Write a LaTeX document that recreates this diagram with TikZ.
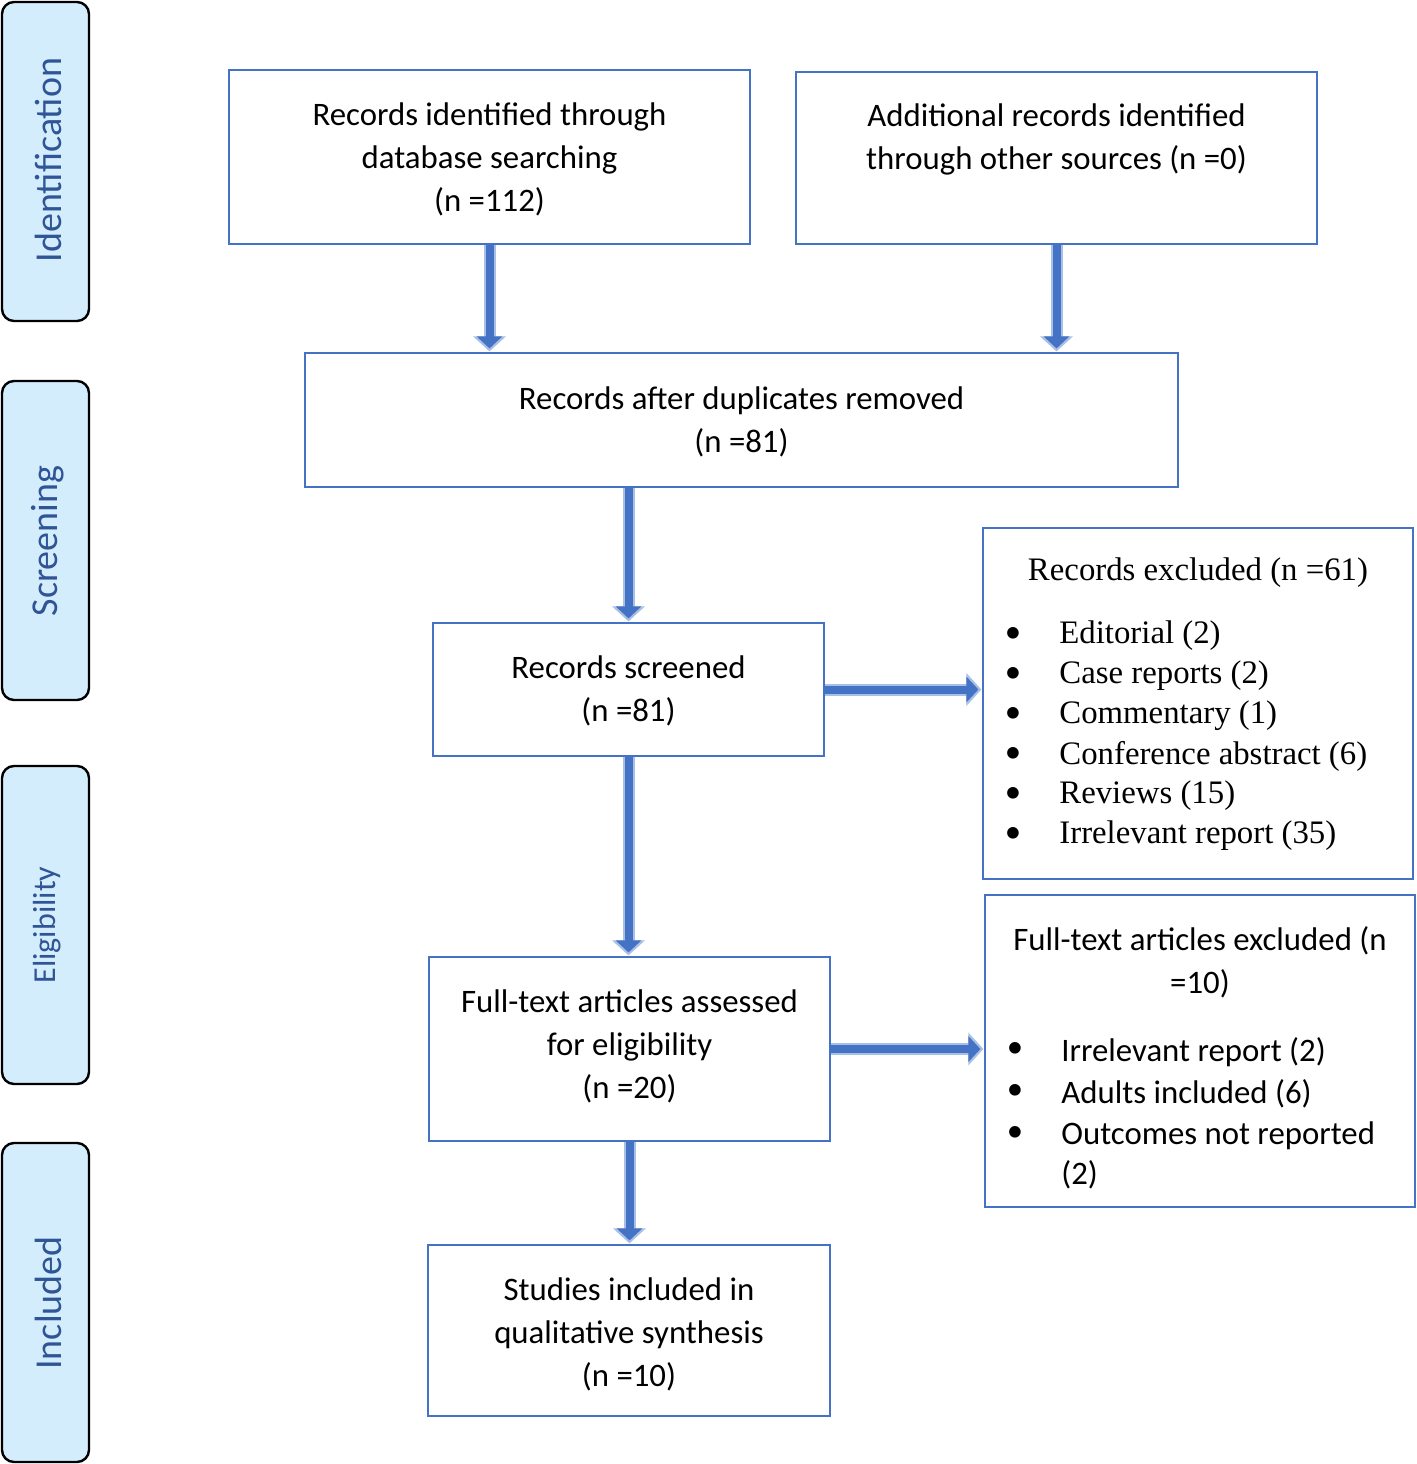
\documentclass[tikz,border=0pt]{standalone}
\usepackage{fontspec}
\setmainfont{Carlito}
\newfontfamily\serifx{Liberation Serif}
\usetikzlibrary{arrows.meta}
\definecolor{boxblue}{HTML}{4472C4}
\definecolor{arrlight}{HTML}{A9C0E6}
\definecolor{sidefill}{HTML}{D4EDFC}
\definecolor{sidetext}{HTML}{2F5597}
\begin{document}
\begin{tikzpicture}[x=0.5pt,y=-0.5pt,
 box/.style={draw=boxblue, line width=1pt, inner sep=0pt, rectangle},
 txt/.style={font=\fontsize{16.4}{21.5}\selectfont, align=center, inner sep=0pt},
 serif/.style={font=\serifx\fontsize{16.4}{20}\selectfont, inner sep=0pt},
 listtxt/.style={font=\fontsize{16.4}{21.5}\selectfont, inner sep=0pt},
 side/.style={draw=black, line width=1.2pt, fill=sidefill, rounded corners=6pt, inner sep=0pt, minimum width=43.5pt},
 sidelbl/.style={rotate=90, text=sidetext, font=\fontsize{19}{22}\selectfont, inner sep=0pt},
 arr/.style={draw=boxblue, line width=4pt, -{Triangle[width=12.5pt,length=6pt]}, shorten >=1.8pt,
   preaction={draw=arrlight, line width=6pt, -{Triangle[width=16pt,length=7.5pt]}, shorten >=0.3pt}}]
\useasboundingbox (0,0) rectangle (1417,1464);
% side bars
\node[side, minimum height=159.5pt] (s1) at (45.5,161.5) {};
\node[side, minimum height=159.5pt] (s2) at (45.5,540.5) {};
\node[side, minimum height=159pt] (s3) at (45.5,925) {};
\node[side, minimum height=159.5pt] (s4) at (45.5,1302.5) {};
\node[sidelbl] (l1) at (48,160) {Identification};
\node[sidelbl] (l2) at (48,541) {Screening};
\node[sidelbl, font=\fontsize{16}{20}\selectfont] (l3) at (47,925) {Eligibility};
\node[sidelbl] (l4) at (48,1303) {Included};
% boxes
\node[box, minimum width=260.5pt, minimum height=87pt] (b1) at (489.5,157) {};
\node[box, minimum width=260.5pt, minimum height=86pt] (b2) at (1056.5,158) {};
\node[box, minimum width=436.5pt, minimum height=67pt] (b3) at (741.5,420) {};
\node[box, minimum width=195.5pt, minimum height=66.5pt] (b4) at (628.5,689.5) {};
\node[box, minimum width=200.5pt, minimum height=92pt] (b5) at (629.5,1049) {};
\node[box, minimum width=201pt, minimum height=85.5pt] (b6) at (629,1330.5) {};
\node[box, minimum width=215pt, minimum height=175.5pt] (e1) at (1198,703.5) {};
\node[box, minimum width=215pt, minimum height=156pt] (e2) at (1200,1051) {};
% texts
\node[txt] (t1) at (489.5,159) {Records identified through\\database searching\\(n =112)};
\node[txt] (t2) at (1056.5,139.5) {Additional records identified\\through other sources (n =0)};
\node[txt] (t3) at (741.5,421.5) {Records after duplicates removed\\(n =81)};
\node[txt] (t4) at (628.5,690.5) {Records screened\\(n =81)};
\node[txt] (t5) at (629.5,1046) {Full-text articles assessed\\for eligibility\\(n =20)};
\node[txt] (t6) at (629,1334) {Studies included in\\qualitative synthesis\\(n =10)};
% exclusion box 1
\node[serif] (e1h) at (1198,573) {Records excluded (n =61)};
\foreach \t [count=\i] in {Editorial (2),Case reports (2),Commentary (1),Conference abstract (6),Reviews (15),Irrelevant report (35)}{
  \node[listtxt] (e1b\i) at (1013,{595+40*\i}) {•};
  \node[serif, anchor=west] (e1t\i) at (1059,{596+40*\i}) {\t};
}
% exclusion box 2
\node[txt] (e2h) at (1200,962) {Full-text articles excluded (n\\=10)};
\foreach \t [count=\i] in {Irrelevant report (2),Adults included (6),Outcomes not reported}{
  \node[listtxt] (e2b\i) at (1015,{1008+42*\i}) {•};
  \node[listtxt, anchor=west] (e2t\i) at (1061,{1010+42*\i}) {\t};
}
\node[listtxt, anchor=west] (e2t4) at (1061,1175) {(2)};
% arrows
\draw[arr] (b1.south) -- (b1.south |- b3.north);
\draw[arr] (b2.south) -- (b2.south |- b3.north);
\draw[arr] (b4.north |- b3.south) -- (b4.north);
\draw[arr] (b4.east) -- (b4.east -| e1.west);
\draw[arr] (b4.south) -- (b4.south |- b5.north);
\draw[arr] (b5.east) -- (b5.east -| e2.west);
\draw[arr] (b5.south) -- (b5.south |- b6.north);
\end{tikzpicture}
\end{document}
